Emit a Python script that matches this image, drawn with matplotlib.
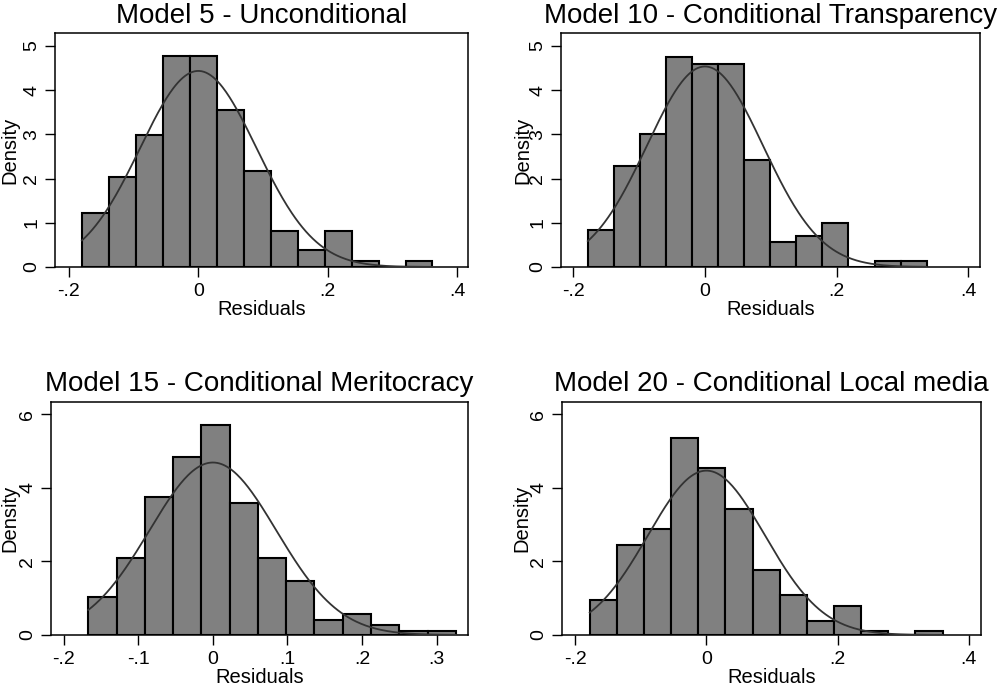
import numpy as np
import matplotlib
matplotlib.use("Agg")
import matplotlib.pyplot as plt

plt.rcParams['font.family'] = ['Liberation Sans', 'DejaVu Sans']

# data (density of each histogram bin)
titles = ["Model 5 - Unconditional",
          "Model 10 - Conditional Transparency",
          "Model 15 - Conditional Meritocracy",
          "Model 20 - Conditional Local media"]

bin_start = [-0.180, -0.178, -0.167, -0.178]
bin_width = [0.0417, 0.0396, 0.0379, 0.0414]

dens_m5 = [1.22, 2.03, 2.98, 4.76, 4.76, 3.54, 2.16, 0.81, 0.39, 0.81, 0.13, 0.0, 0.13]
dens_m10 = [0.84, 2.29, 3.00, 4.74, 4.59, 4.59, 2.42, 0.56, 0.69, 0.99, 0.0, 0.13, 0.13]
dens_m15 = [1.04, 2.10, 3.76, 4.83, 5.72, 3.60, 2.10, 1.48, 0.42, 0.57, 0.27, 0.12, 0.12]
dens_m20 = [0.95, 2.46, 2.88, 5.37, 4.55, 3.44, 1.77, 1.08, 0.38, 0.80, 0.11, 0.0, 0.11]
densities = [dens_m5, dens_m10, dens_m15, dens_m20]

# normal overlay (mean, sd)
norm_mean = [0.0, 0.0, 0.0, 0.0]
norm_sd = [0.090, 0.088, 0.085, 0.0892]

xticks = [[-0.2, 0.0, 0.2, 0.4], [-0.2, 0.0, 0.2, 0.4],
          [-0.2, -0.1, 0.0, 0.1, 0.2, 0.3], [-0.2, 0.0, 0.2, 0.4]]
xticklabels = [["-.2", "0", ".2", ".4"], ["-.2", "0", ".2", ".4"],
               ["-.2", "-.1", "0", ".1", ".2", ".3"], ["-.2", "0", ".2", ".4"]]
yticks = [[0, 1, 2, 3, 4, 5], [0, 1, 2, 3, 4, 5], [0, 2, 4, 6], [0, 2, 4, 6]]
xlims = [(-0.2216, 0.417), (-0.2187, 0.4178), (-0.217, 0.342), (-0.2203, 0.4188)]
ylims = [(0, 5.29), (0, 5.29), (0, 6.34), (0, 6.34)]

W, H = 998, 688
fig = plt.figure(figsize=(W / 100, H / 100), dpi=100)

# axes boxes in pixels: left, right, top, bottom
boxes = [(55, 468, 33, 267), (561, 980, 33, 267),
         (51, 468, 402, 635), (562, 981, 402, 635)]
ylab_x = [19, 532, 19, 531]
title_pad = [7, 7, 8, 8]

for i in range(4):
    l, r, t, b = boxes[i]
    ax = fig.add_axes([l / W, 1 - b / H, (r - l) / W, (b - t) / H])
    d = densities[i]
    edges = bin_start[i] + bin_width[i] * np.arange(len(d) + 1)
    ax.bar(edges[:-1], d, width=bin_width[i], align='edge', color='#808080',
           edgecolor='black', linewidth=1.5, zorder=2)
    xs = np.linspace(edges[0], edges[-1], 300)
    ys = np.exp(-0.5 * ((xs - norm_mean[i]) / norm_sd[i]) ** 2) / (norm_sd[i] * np.sqrt(2 * np.pi))
    ax.plot(xs, ys, color='#333333', linewidth=1.3, zorder=3)

    ax.set_xlim(*xlims[i])
    ax.set_ylim(*ylims[i])
    ax.set_xticks(xticks[i])
    ax.set_xticklabels(xticklabels[i], fontsize=14)
    ax.set_yticks(yticks[i])
    ax.set_yticklabels([str(v) for v in yticks[i]], fontsize=14, rotation=90, va='center')
    ax.tick_params(direction='out', length=7.5, width=1, color='black')
    ax.tick_params(axis='x', pad=4)
    ax.tick_params(axis='y', pad=3)
    for s in ax.spines.values():
        s.set_linewidth(1.1)
        s.set_color('black')
    ax.set_title(titles[i], fontsize=20, pad=title_pad[i])
    ax.set_xlabel("Residuals", fontsize=14.5, labelpad=0)
    ax.set_ylabel("Density", fontsize=14.5)
    ax.yaxis.set_label_coords((ylab_x[i] - l) / (r - l), 0.5)

fig.savefig("out.png", dpi=100)
